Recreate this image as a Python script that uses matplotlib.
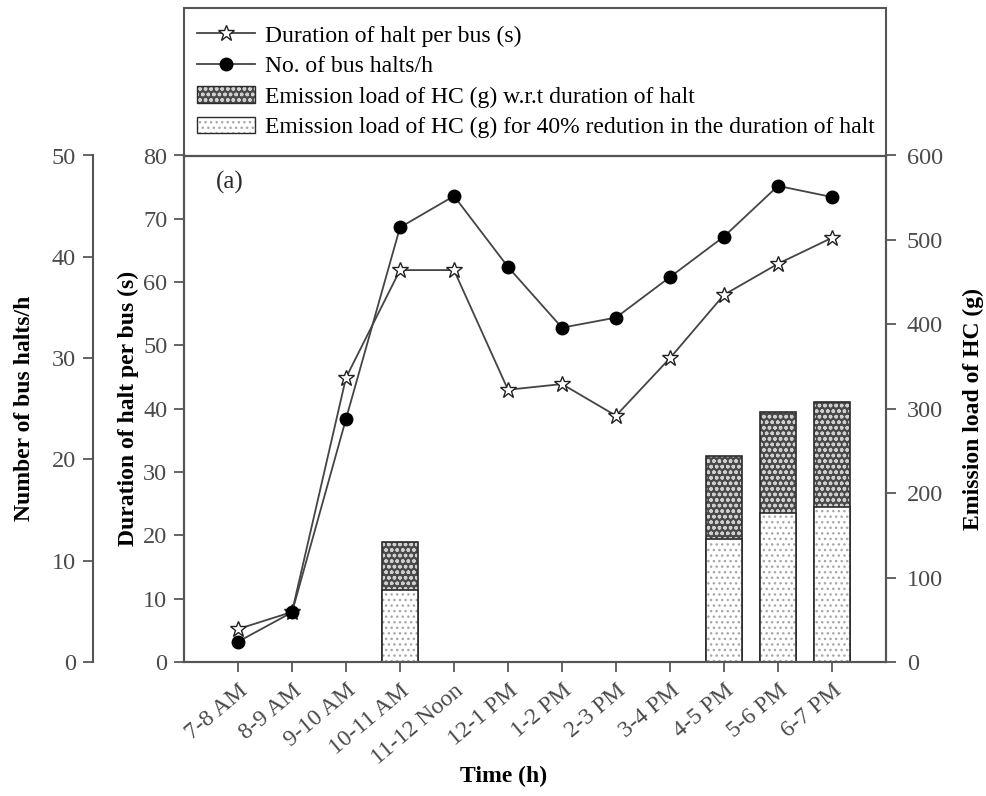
import numpy as np
import matplotlib
matplotlib.use("Agg")
import matplotlib.pyplot as plt
from matplotlib.lines import Line2D
from matplotlib.patches import Patch, Rectangle

plt.rcParams['font.family'] = ['Liberation Serif', 'DejaVu Serif']
plt.rcParams['hatch.linewidth'] = 1.0

# data
periods = ['7-8 AM', '8-9 AM', '9-10 AM', '10-11 AM', '11-12 Noon', '12-1 PM',
           '1-2 PM', '2-3 PM', '3-4 PM', '4-5 PM', '5-6 PM', '6-7 PM']
halt_duration = [5.2, 7.9, 44.9, 61.9, 61.9, 43.0, 43.9, 38.9, 48.0, 58.0, 62.9, 67.0]
bus_halts = [2.0, 4.9, 24.0, 42.9, 46.0, 39.0, 33.0, 34.0, 38.0, 42.0, 47.0, 45.9]
bar_idx = [3, 9, 10, 11]
hc_load = [142.5, 244.0, 296.0, 308.0]
hc_load_reduced = [85.3, 145.7, 176.5, 183.6]

ink = '#2b2b2b'
fig = plt.figure(figsize=(9.87, 7.96), dpi=100)
L, R, B, T = 184 / 987, 886 / 987, 1 - 662 / 796, 1 - 155.5 / 796
ax_bar = fig.add_axes([L, B, R - L, T - B])
ax_dur = ax_bar.twinx()
ax_halt = ax_bar.twinx()

# bars (right axis)
w = 0.65
dark_kw = dict(facecolor='#4a4a4a', edgecolor='#cfcfcf', hatch='ooo', linewidth=0)
light_kw = dict(facecolor='white', edgecolor='#a8a8a8', hatch='...', linewidth=0)
ax_bar.bar(bar_idx, hc_load, width=w, **dark_kw)
ax_bar.bar(bar_idx, hc_load, width=w, fill=False, edgecolor=ink, linewidth=1.2)
ax_bar.bar(bar_idx, hc_load_reduced, width=w, **light_kw)
ax_bar.bar(bar_idx, hc_load_reduced, width=w, fill=False, edgecolor=ink, linewidth=1.2)
ax_bar.set_ylim(0, 600)
ax_bar.set_yticks(range(0, 601, 100))
ax_bar.yaxis.tick_right()
ax_bar.yaxis.set_label_position('right')
ax_bar.set_ylabel('Emission load of HC (g)', fontsize=17, fontweight='bold', labelpad=14)
ax_bar.set_xlim(-1, 12)
ax_bar.set_xticks(range(len(periods)))
ax_bar.set_xticklabels(periods, rotation=40, ha='right', rotation_mode='anchor')

# duration of halt (inner left axis)
ax_dur.plot(range(len(periods)), halt_duration, color='#444444', lw=1.3,
            marker='*', ms=12, mfc='white', mec='#222222', mew=1.0)
ax_dur.set_ylim(0, 80)
ax_dur.set_yticks(range(0, 81, 10))
ax_dur.yaxis.tick_left()
ax_dur.yaxis.set_label_position('left')
ax_dur.set_ylabel('Duration of halt per bus (s)', fontsize=17, fontweight='bold', labelpad=3)

# bus halts (outer left axis)
ax_halt.plot(range(len(periods)), bus_halts, color='#444444', lw=1.3,
             marker='o', ms=9, mfc='black', mec='black')
ax_halt.set_ylim(0, 50)
ax_halt.set_yticks(range(0, 51, 10))
ax_halt.yaxis.tick_left()
ax_halt.yaxis.set_label_position('left')
ax_halt.spines['left'].set_position(('axes', -0.13))
for s in ['right', 'top', 'bottom']:
    ax_halt.spines[s].set_visible(False)
ax_halt.set_ylabel('Number of bus halts/h', fontsize=17, fontweight='bold', labelpad=12)

for a in (ax_bar, ax_dur, ax_halt):
    a.tick_params(labelsize=17.5, colors='#4a4a4a', length=7, width=1.2,
                  direction='out', pad=5)
    for s in a.spines.values():
        s.set_color('#555555')
        s.set_linewidth(1.5)
ax_bar.tick_params(axis='x', labelsize=17, pad=6)
ax_bar.tick_params(axis='y', pad=8)

ax_bar.text(0.045, 0.935, '(a)', transform=ax_bar.transAxes, fontsize=18, color=ink)
fig.text(504 / 987, 1 - 776 / 796, 'Time (h)', ha='center', va='center',
         fontsize=17, fontweight='bold')

# legend box on top of the axes
fig.patches.append(Rectangle((L, T), R - L, 1 - 8 / 796 - T, transform=fig.transFigure,
                             fill=False, edgecolor='#555555', lw=1.5))
h_dur = Line2D([], [], color='#444444', lw=1.3, marker='*', ms=12, mfc='white', mec='#222222')
h_halt = Line2D([], [], color='#444444', lw=1.3, marker='o', ms=9, mfc='black', mec='black')
h_full = (Patch(**dark_kw), Patch(fill=False, edgecolor=ink, lw=1.0))
h_red = (Patch(**light_kw), Patch(fill=False, edgecolor=ink, lw=1.0))
fig.legend([h_dur, h_halt, h_full, h_red],
           ['Duration of halt per bus (s)', 'No. of bus halts/h',
            'Emission load of HC (g) w.r.t duration of halt',
            'Emission load of HC (g) for 40% redution in the duration of halt'],
           loc='upper left', bbox_to_anchor=(197 / 987, 1 - 25 / 796), frameon=False,
           fontsize=17, handlelength=2.45, handletextpad=0.42, labelspacing=0.38,
           borderaxespad=0, borderpad=0)

fig.savefig('out.png', dpi=100)
